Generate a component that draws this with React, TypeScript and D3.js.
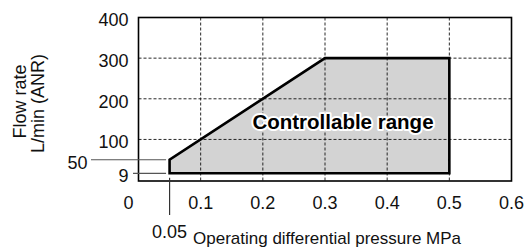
import React, { useEffect, useRef } from 'react';
import * as d3 from 'd3';

// Controllable range outline (pressure MPa, flow L/min)
const rangePressure = [0.05, 0.05, 0.3, 0.5, 0.5];
const rangeFlow = [9, 50, 300, 300, 9];

const xTicks = [0, 0.1, 0.2, 0.3, 0.4, 0.5, 0.6];
const yTicks = [100, 200, 300, 400];
const xGrid = [0.1, 0.2, 0.3, 0.4, 0.5];
const yGrid = [100, 200, 300];
const markFlow = [50, 9];
const markPressure = 0.05;

const App: React.FC = () => {
  const svgRef = useRef<SVGSVGElement>(null);

  useEffect(() => {
    if (!svgRef.current) return;
    const width = 526;
    const height = 252;
    const left = 138.5, right = 511.5, top = 17.5, bottom = 181;
    const svg = d3.select(svgRef.current);
    svg.selectAll("*").remove();

    const font = "'Liberation Sans', Arial, Helvetica, sans-serif";
    const x = d3.scaleLinear().domain([0, 0.6]).range([left, right]);
    const yLin = d3.scaleLinear().domain([0, 400]).range([bottom, top]);
    // the low-flow end of the axis is stretched so 9 sits clear of the frame
    const y = d3.scaleLinear().domain([0, 9, 50, 400]).range([bottom, bottom - 7.7, yLin(50) - 0.8, top]);

    svg.append("rect").attr("width", width).attr("height", height).attr("fill", "#fff");

    const pts: [number, number][] = rangePressure.map((p, i) => [x(p), y(rangeFlow[i])]);
    const outline = d3.line()(pts) + "Z";

    svg.append("path").attr("d", outline).attr("fill", "#d3d3d3");

    // Grid
    svg.append("g").selectAll("line").data(xGrid).enter().append("line")
      .attr("x1", d => x(d)).attr("x2", d => x(d))
      .attr("y1", top).attr("y2", bottom)
      .attr("stroke", "#111").attr("stroke-width", 0.9).attr("stroke-dasharray", "3 2");
    svg.append("g").selectAll("line").data(yGrid).enter().append("line")
      .attr("x1", left).attr("x2", right)
      .attr("y1", d => y(d)).attr("y2", d => y(d))
      .attr("stroke", "#111").attr("stroke-width", 0.9).attr("stroke-dasharray", "3 2");

    // Frame
    svg.append("rect")
      .attr("x", left).attr("y", top)
      .attr("width", right - left).attr("height", bottom - top)
      .attr("fill", "none").attr("stroke", "#000").attr("stroke-width", 1.6);

    svg.append("path").attr("d", outline)
      .attr("fill", "none").attr("stroke", "#000").attr("stroke-width", 2.6)
      .attr("stroke-linejoin", "miter");

    // Leader lines for 50, 9 and 0.05
    svg.append("line")
      .attr("x1", 91).attr("x2", x(markPressure) - 3.5)
      .attr("y1", y(markFlow[0])).attr("y2", y(markFlow[0]))
      .attr("stroke", "#555").attr("stroke-width", 1.2);
    svg.append("line")
      .attr("x1", 133).attr("x2", x(markPressure) - 3.5)
      .attr("y1", y(markFlow[1])).attr("y2", y(markFlow[1]))
      .attr("stroke", "#555").attr("stroke-width", 1.2);
    svg.append("line")
      .attr("x1", x(markPressure)).attr("x2", x(markPressure))
      .attr("y1", y(markFlow[1]) + 4.5).attr("y2", 215)
      .attr("stroke", "#333").attr("stroke-width", 1.2);

    const txt = (s: string, tx: number, ty: number, anchor: string, size = 18) =>
      svg.append("text").text(s)
        .attr("x", tx).attr("y", ty)
        .attr("text-anchor", anchor)
        .attr("font-family", font).attr("font-size", size).attr("fill", "#111");

    yTicks.forEach(t => txt(String(t), 128.5, y(t) + 8.8, "end"));
    txt(String(markFlow[0]), 87.5, y(markFlow[0]) + 8.8, "end");
    txt(String(markFlow[1]), 128.5, y(markFlow[1]) + 8.8, "end");

    xTicks.forEach(t => txt(t === 0 ? "0" : String(t), x(t) + (t === 0 ? -10 : 0), 208.5, "middle"));
    txt(String(markPressure), x(markPressure), 237.5, "middle");

    txt("Operating differential pressure MPa", 193, 244, "start", 17);

    txt("Flow rate", 0, 0, "middle", 18)
      .attr("transform", `translate(25.5,101.5) rotate(-90)`);
    txt("L/min (ANR)", 0, 0, "middle", 18)
      .attr("transform", `translate(43.5,103.5) rotate(-90)`);

    svg.append("text").text("Controllable range")
      .attr("x", 343).attr("y", 128.5)
      .attr("text-anchor", "middle")
      .attr("font-family", font).attr("font-size", 20.5).attr("font-weight", "bold")
      .attr("fill", "#000").attr("stroke", "#fff").attr("stroke-width", 4)
      .attr("stroke-linejoin", "round").attr("paint-order", "stroke");
  }, []);

  return (
    <svg ref={svgRef} width={526} height={252}
      style={{ position: 'absolute', left: 0, top: 0, display: 'block' }} />
  );
};

export default App;
